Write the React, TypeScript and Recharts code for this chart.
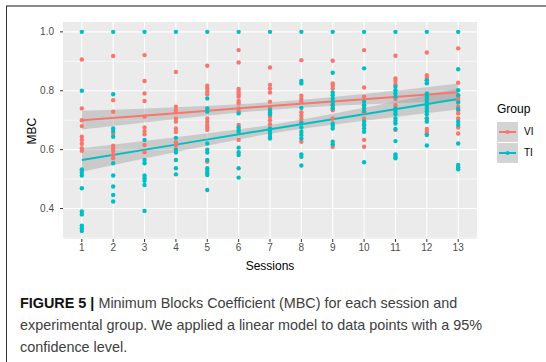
import { ComposedChart, Scatter, Area, Line, XAxis, YAxis, CartesianGrid } from "recharts";

const sessions = [1, 2, 3, 4, 5, 6, 7, 8, 9, 10, 11, 12, 13];

// MBC per session
const viValues: number[][] = [
  [0.906, 0.74, 0.7, 0.68, 0.644, 0.633, 0.62, 0.605, 0.596, 0.528],
  [0.918, 0.768, 0.729, 0.655, 0.613, 0.604, 0.595, 0.582, 0.571],
  [0.921, 0.833, 0.791, 0.765, 0.712, 0.675, 0.663, 0.652, 0.616, 0.591],
  [0.864, 0.746, 0.734, 0.727, 0.706, 0.695, 0.672, 0.66, 0.625, 0.614],
  [0.885, 0.817, 0.808, 0.797, 0.788, 0.738, 0.706, 0.695, 0.684, 0.675, 0.667, 0.559],
  [0.938, 0.896, 0.806, 0.797, 0.788, 0.78, 0.765, 0.757, 0.74, 0.729, 0.684, 0.633],
  [0.879, 0.82, 0.808, 0.794, 0.763, 0.742, 0.712, 0.7, 0.686, 0.67],
  [0.904, 0.783, 0.772, 0.763, 0.727, 0.715, 0.704, 0.693, 0.627],
  [0.902, 0.825, 0.817, 0.808, 0.754, 0.742, 0.734, 0.706, 0.61],
  [0.938, 0.811, 0.78, 0.751, 0.738, 0.727, 0.706, 0.684, 0.633, 0.61],
  [0.919, 0.842, 0.833, 0.821, 0.772, 0.751, 0.667],
  [0.93, 0.853, 0.844, 0.836, 0.827, 0.785, 0.772, 0.706, 0.697, 0.67, 0.661, 0.652],
  [0.944, 0.827, 0.783, 0.774, 0.765, 0.746, 0.734, 0.723, 0.706, 0.675, 0.655],
];

const tiValues: number[][] = [
  [1.0, 0.8, 0.533, 0.522, 0.512, 0.469, 0.39, 0.38, 0.342, 0.333, 0.324],
  [1.0, 0.788, 0.672, 0.663, 0.644, 0.554, 0.512, 0.475, 0.446, 0.424],
  [1.0, 0.633, 0.565, 0.554, 0.512, 0.503, 0.494, 0.48, 0.392],
  [1.0, 0.64, 0.6, 0.59, 0.565, 0.537, 0.516],
  [1.0, 0.774, 0.74, 0.729, 0.621, 0.6, 0.59, 0.565, 0.537, 0.528, 0.52, 0.514, 0.463],
  [1.0, 0.723, 0.675, 0.667, 0.661, 0.607, 0.591, 0.582, 0.537, 0.505],
  [1.0, 0.734, 0.727, 0.72, 0.672, 0.663, 0.655, 0.646, 0.638],
  [1.0, 0.833, 0.825, 0.742, 0.69, 0.675, 0.661, 0.65, 0.638, 0.584, 0.576, 0.546],
  [1.0, 0.861, 0.794, 0.785, 0.774, 0.763, 0.751, 0.74, 0.689, 0.681, 0.672, 0.627, 0.618],
  [1.0, 0.876, 0.763, 0.751, 0.742, 0.73, 0.695, 0.684, 0.672, 0.661, 0.557],
  [1.0, 0.814, 0.802, 0.791, 0.78, 0.74, 0.729, 0.72, 0.706, 0.697, 0.689, 0.67, 0.629, 0.584, 0.576, 0.571],
  [1.0, 0.836, 0.825, 0.791, 0.78, 0.77, 0.76, 0.75, 0.74, 0.73, 0.72, 0.706, 0.695, 0.65, 0.614],
  [1.0, 0.873, 0.802, 0.785, 0.76, 0.738, 0.695, 0.684, 0.621, 0.548, 0.54, 0.533],
];

// linear fit with 95% band, read at a few sessions
const fitSessions = [1, 4, 7, 10, 13];
const viFit = [0.7, 0.724, 0.748, 0.771, 0.795];
const viLow = [0.668, 0.704, 0.735, 0.753, 0.765];
const viHigh = [0.732, 0.744, 0.761, 0.789, 0.825];
const tiFit = [0.565, 0.617, 0.669, 0.72, 0.772];
const tiLow = [0.525, 0.592, 0.654, 0.698, 0.736];
const tiHigh = [0.605, 0.642, 0.684, 0.742, 0.808];

const yTicks = [0.4, 0.6, 0.8, 1.0];
const yMinor = [0.3, 0.5, 0.7, 0.9];
const groups = ["VI", "TI"];

const RED = "#F8766D";
const TEAL = "#00BFC4";
const FONT = "'Liberation Sans', Arial, sans-serif";

const viPoints = sessions.flatMap((s, i) => viValues[i].map((v) => ({ x: s, y: v })));
const tiPoints = sessions.flatMap((s, i) => tiValues[i].map((v) => ({ x: s, y: v })));
const viFitData = fitSessions.map((s, i) => ({ x: s, y: viFit[i], band: [viLow[i], viHigh[i]] }));
const tiFitData = fitSessions.map((s, i) => ({ x: s, y: tiFit[i], band: [tiLow[i], tiHigh[i]] }));

const GroupLegend = () => (
  <div style={{ position: "absolute", left: 497, top: 102, fontFamily: FONT }}>
    <div style={{ fontSize: 12, color: "#000", marginBottom: 5 }}>Group</div>
    {groups.map((g, i) => {
      const color = i === 0 ? RED : TEAL;
      return (
        <div key={g} style={{ display: "flex", alignItems: "center", height: 21 }}>
          <svg width={21} height={20}>
            <rect x={0} y={0} width={21} height={20} fill="#D4D4D4" />
            <line x1={2} x2={19} y1={10} y2={10} stroke={color} strokeWidth={2} />
            <circle cx={10.5} cy={10} r={2} fill={color} />
          </svg>
          <span style={{ fontSize: 10, color: "#000", marginLeft: 6 }}>{g}</span>
        </div>
      );
    })}
  </div>
);

const dot = (color: string) => (p: any) => <circle cx={p.cx} cy={p.cy} r={2.2} fill={color} />;

export default function App() {
  return (
    <div style={{ position: "absolute", left: 0, top: 0, width: 546, height: 362, background: "#fff", overflow: "hidden" }}>
      <div style={{ position: "absolute", left: 6, top: 5, width: 540, height: 2, background: "#8a8a8a" }} />
      <div style={{ position: "absolute", left: 6, top: 6, width: 1, height: 356, background: "#333" }} />
      <div style={{ position: "absolute", left: 0, top: 0 }}>
        <ComposedChart width={546} height={280} margin={{ top: 22, right: 69, bottom: 7, left: 23 }}>
          <CartesianGrid fill="#EBEBEB" stroke="#FFFFFF" strokeWidth={0.6} vertical={false} horizontalValues={yMinor} />
          <CartesianGrid stroke="#FFFFFF" strokeWidth={1.1} verticalValues={sessions} horizontalValues={yTicks} />
          <XAxis
            dataKey="x"
            type="number"
            domain={[0.4, 13.6]}
            ticks={sessions}
            interval={0}
            allowDataOverflow
            height={34}
            axisLine={false}
            tickSize={3}
            tickMargin={2}
            tickLine={{ stroke: "#333" }}
            tick={{ fontSize: 10, fill: "#4D4D4D", fontFamily: FONT }}
            label={{ value: "Sessions", position: "insideBottom", offset: 3, fontSize: 12, fill: "#000", fontFamily: FONT }}
          />
          <YAxis
            dataKey="y"
            type="number"
            domain={[0.2965, 1.0335]}
            ticks={yTicks}
            allowDataOverflow
            width={40}
            axisLine={false}
            tickSize={3}
            tickMargin={6}
            tickLine={{ stroke: "#333" }}
            tickFormatter={(v: number) => v.toFixed(1)}
            tick={{ fontSize: 10, fill: "#4D4D4D", fontFamily: FONT }}
            label={{ value: "MBC", angle: -90, position: "insideLeft", offset: 9, fontSize: 12, fill: "#000", fontFamily: FONT, dy: 14 }}
          />
          <Scatter name="VI" data={viPoints} fill={RED} shape={dot(RED)} isAnimationActive={false} />
          <Scatter name="TI" data={tiPoints} fill={TEAL} shape={dot(TEAL)} isAnimationActive={false} />
          <Area data={viFitData} dataKey="band" type="monotone" fill="#999999" fillOpacity={0.4} stroke="none" isAnimationActive={false} />
          <Line data={viFitData} dataKey="y" stroke={RED} strokeWidth={2} dot={false} isAnimationActive={false} />
          <Area data={tiFitData} dataKey="band" type="monotone" fill="#999999" fillOpacity={0.4} stroke="none" isAnimationActive={false} />
          <Line data={tiFitData} dataKey="y" stroke={TEAL} strokeWidth={2} dot={false} isAnimationActive={false} />
        </ComposedChart>
      </div>
      <GroupLegend />
      <div style={{ position: "absolute", left: 20, top: 292, fontFamily: FONT, fontSize: 14.4, lineHeight: "22px", color: "#404040", whiteSpace: "nowrap" }}>
        <b style={{ color: "#111" }}>FIGURE 5 |</b> Minimum Blocks Coefficient (MBC) for each session and
        <br />
        experimental group. We applied a linear model to data points with a 95%
        <br />
        confidence level.
      </div>
    </div>
  );
}
